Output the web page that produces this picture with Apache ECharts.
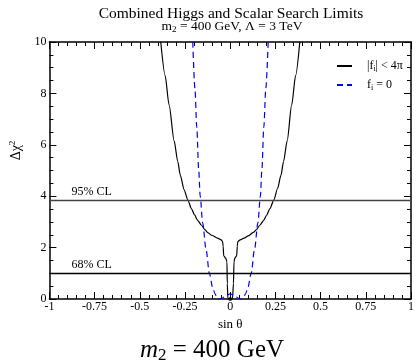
<!DOCTYPE html>
<html><head><meta charset="utf-8">
<script src="https://cdn.jsdelivr.net/npm/echarts@6/dist/echarts.min.js"></script>
<style>html,body{margin:0;padding:0;background:#fff}#c{width:417px;height:360px}</style>
</head><body><div id="c"></div>
<script>
const xTicks = [-1, -0.75, -0.5, -0.25, 0, 0.25, 0.5, 0.75, 1];
const yTicks = [0, 2, 4, 6, 8, 10];
// |f_i| < 4pi (solid black)
const fullX = [-0.384,-0.36,-0.338,-0.31,-0.29,-0.276,-0.255,-0.234,-0.215,-0.197,-0.18,-0.16,-0.14,-0.124,-0.1,-0.07,-0.05,-0.042,-0.039,-0.036,-0.024,-0.018,-0.016,-0.013,-0.006,0,0.006,0.013,0.018,0.021,0.026,0.036,0.039,0.042,0.055,0.077,0.1,0.13,0.145,0.165,0.185,0.2,0.22,0.241,0.262,0.281,0.295,0.315,0.34,0.362,0.385];
const fullY = [10,8.7,7.55,6.15,5.35,4.82,4.25,3.85,3.52,3.27,3.06,2.88,2.7,2.58,2.47,2.37,2.3,2.23,2.05,1.68,1.58,1.45,0.6,0.02,0,0,0,0.02,0.6,1.45,1.6,1.68,2.05,2.23,2.3,2.37,2.46,2.6,2.7,2.88,3.06,3.25,3.52,3.85,4.3,4.82,5.35,6.15,7.55,8.7,10];
// f_i = 0 (dashed blue)
const zeroX = [-0.207,-0.195,-0.185,-0.174,-0.166,-0.152,-0.134,-0.115,-0.097,-0.084,-0.072,-0.062,-0.045,-0.025,0,0.025,0.045,0.06,0.072,0.085,0.098,0.116,0.135,0.153,0.167,0.175,0.186,0.197,0.21];
const zeroY = [10,8.2,6.7,5.0,4.0,2.95,1.95,1.0,0.45,0.2,0.04,0,0.03,0.13,0.2,0.13,0.03,0,0.04,0.2,0.45,1.0,1.95,2.95,4.0,5.0,6.7,8.2,10];
const clValues = [3.84, 1.0];
const clLabels = ['95% CL', '68% CL'];
const seriesNames = ['|f_i| < 4π', 'f_i = 0'];

const FONT = '"Liberation Serif", "Times New Roman", serif';
const chart = echarts.init(document.getElementById('c'), null, {renderer: 'canvas'});
const grid = {left: 48.5, right: 3, top: 42, bottom: 61};
const axisCommon = {
  min: -1, max: 1, interval: 0.25,
  axisLine: {show: true, onZero: false, lineStyle: {color: '#000', width: 1.5}},
  axisTick: {show: true, inside: true, length: 7, lineStyle: {color: '#000', width: 1}},
  minorTick: {show: true, splitNumber: 5, length: 4, lineStyle: {color: '#000', width: 1}},
  splitLine: {show: false}
};
const yCommon = {
  min: 0, max: 10, interval: 2,
  axisLine: {show: true, onZero: false, lineStyle: {color: '#000', width: 1.5}},
  axisTick: {show: true, inside: true, length: 7, lineStyle: {color: '#000', width: 1}},
  minorTick: {show: true, splitNumber: 4, length: 4, lineStyle: {color: '#000', width: 1}},
  splitLine: {show: false}
};
const rn = (size, extra) => Object.assign({fontFamily: FONT, fontSize: size, fontWeight: 'normal', color: '#000'}, extra || {});
chart.setOption({
  animation: false,
  textStyle: {fontFamily: FONT},
  title: [
    {text: 'Combined Higgs and Scalar Search Limits', left: 226, top: 1, textAlign: 'center',
     textStyle: {fontFamily: FONT, fontSize: 15.5, fontWeight: 'normal', color: '#000'}},
    {text: '{n|m}{s|2}{n| = 400 GeV, Λ = 3 TeV}', left: 227, top: 14, textAlign: 'center',
     textStyle: {fontWeight: 'normal', rich: {n: rn(13.5), s: rn(9, {verticalAlign: 'bottom', padding: [6,0,0,0]})}}},
    {text: '{i|m}{s|2}{n| = 400 GeV}', left: 207, top: 331, textAlign: 'center',
     textStyle: {fontWeight: 'normal', rich: {i: rn(25, {fontStyle: 'italic'}), n: rn(25), s: rn(17, {verticalAlign: 'bottom', padding: [11,0,0,0]})}}}
  ],
  grid: grid,
  legend: {
    left: 331, top: 55, orient: 'vertical', itemWidth: 15, itemHeight: 12, itemGap: 6,
    data: seriesNames,
    itemStyle: {opacity: 0},
    formatter: function (n) { return n === seriesNames[0] ? '{t||f}{s|i}{t|| < 4π}' : '{t|f}{s|i}{t| = 0}'; },
    textStyle: {padding: [0,0,0,10], rich: {t: rn(12), s: rn(8, {verticalAlign: 'bottom', padding: [6,0,0,0]})}}
  },
  xAxis: [
    Object.assign({type: 'value', position: 'bottom', name: 'sin θ', nameLocation: 'middle', nameGap: 17,
      nameTextStyle: {fontFamily: FONT, fontSize: 13, color: '#000'},
      axisLabel: {fontFamily: FONT, fontSize: 12, color: '#000', margin: 2,
        formatter: v => xTicks.includes(v) ? String(v) : ''}}, axisCommon),
    Object.assign({type: 'value', position: 'top', axisLabel: {show: false}}, axisCommon)
  ],
  yAxis: [
    Object.assign({type: 'value', position: 'left',
      name: '{a|Δχ}{b|2}', nameLocation: 'middle', nameGap: 22, nameRotate: 90,
      nameTextStyle: {padding: [0, 0, 0, 40], rich: {a: rn(14), b: rn(9, {verticalAlign: 'top', padding: [0,0,8,0]})}},
      axisLabel: {fontFamily: FONT, fontSize: 12, color: '#000', margin: 3,
        formatter: v => yTicks.includes(v) ? String(v) : ''}}, yCommon),
    Object.assign({type: 'value', position: 'right', axisLabel: {show: false}}, yCommon)
  ],
  series: [
    {name: seriesNames[0], type: 'line', symbol: 'none', clip: true, smooth: 0.25, smoothMonotone: 'x',
     data: fullX.map((x, i) => [x, fullY[i]]),
     lineStyle: {color: '#000', width: 1.2}, itemStyle: {color: '#000'}},
    {name: seriesNames[1], type: 'line', symbol: 'none', clip: true, smooth: 0.3, smoothMonotone: 'x',
     data: zeroX.map((x, i) => [x, zeroY[i]]),
     lineStyle: {color: '#0000ff', width: 1.2, type: [6, 4]}, itemStyle: {color: '#0000ff'}},
    {name: 'CL', type: 'line', data: [], symbol: 'none',
     markLine: {silent: true, symbol: 'none',
       data: clValues.map((v, i) => ({yAxis: v, lineStyle: {color: i === 0 ? '#444' : '#000', width: 1.3, type: 'solid'},
         label: {show: true, position: 'insideStartTop', formatter: clLabels[i], distance: [22, 2],
           fontFamily: FONT, fontSize: 12, color: '#000'}}))}},
    {name: 'min', type: 'scatter', data: [[0, 0]], symbolSize: 4, itemStyle: {color: '#000'}}
  ]
});
</script></body></html>
